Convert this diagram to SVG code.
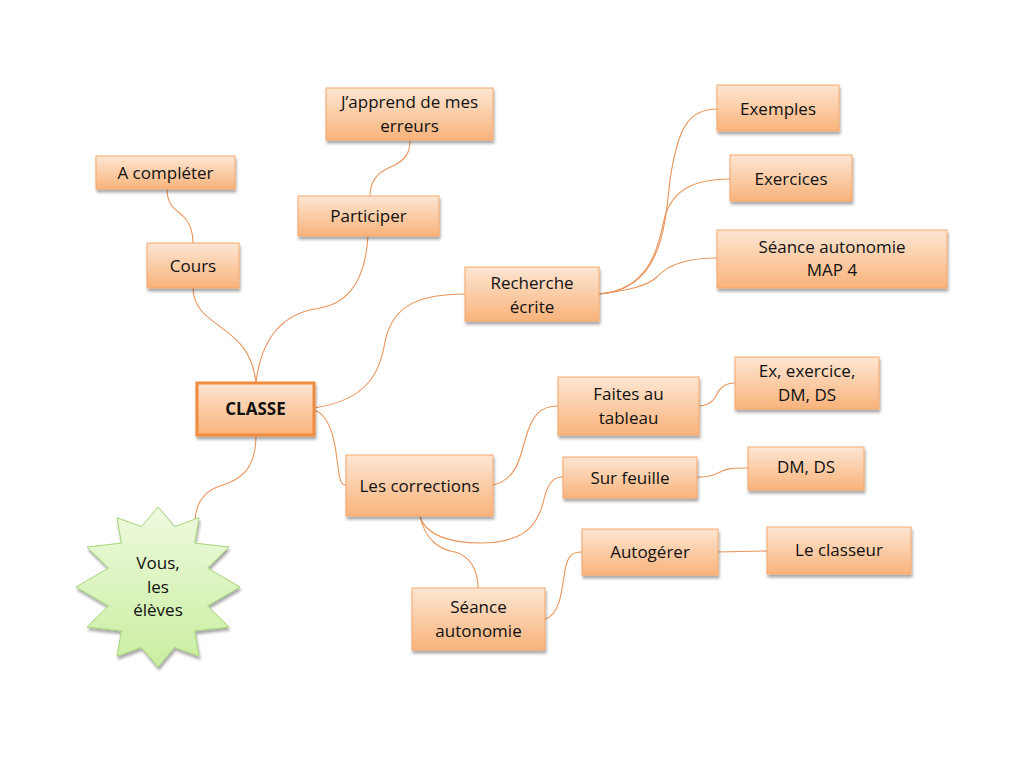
<svg xmlns="http://www.w3.org/2000/svg" width="1024" height="768" viewBox="0 0 1024 768">
<defs>
<linearGradient id="og" x1="0" y1="0" x2="0" y2="1">
<stop offset="0" stop-color="#fde6d3"/>
<stop offset="1" stop-color="#f9b37b"/>
</linearGradient>
<linearGradient id="gg" x1="0" y1="0" x2="0" y2="1">
<stop offset="0" stop-color="#eefadf"/>
<stop offset="1" stop-color="#c9ee9f"/>
</linearGradient>
<filter id="sh" x="-20%" y="-20%" width="140%" height="150%">
<feGaussianBlur in="SourceAlpha" stdDeviation="1.5"/>
<feOffset dx="1" dy="2.5" result="b"/>
<feComponentTransfer><feFuncA type="linear" slope="0.35"/></feComponentTransfer>
<feMerge><feMergeNode/><feMergeNode in="SourceGraphic"/></feMerge>
</filter>
</defs>
<style>
.box{fill:url(#og);stroke:#f5a86c;stroke-width:1;filter:url(#sh)}
.main{fill:url(#og);stroke:#f08a3c;stroke-width:3;filter:url(#sh)}
.star{fill:url(#gg);stroke:#a5d57a;stroke-width:1;filter:url(#sh)}
.t{font-family:"Open Sans","Liberation Sans",sans-serif;font-size:17px;fill:#111111;text-anchor:middle}
.b{font-weight:bold}
.c{fill:none;stroke:#e9955c;stroke-width:1.1}
</style>
<rect width="1024" height="768" fill="#ffffff"/>
<g id="connectors">
<path class="c" d="M193,288 C194,330 250,322 256,383"/>
<path class="c" d="M256,383 C262,330 290,312 320,308 C355,302 366,270 368,236"/>
<path class="c" d="M167,189 C167,208 178,210 185,218 C192,226 193,235 193,243"/>
<path class="c" d="M370,196 C370,176 383,170 395,165 C408,158 410,150 410,140"/>
<path class="c" d="M314,408 C368,400 380,372 385,342 C392,305 420,294 465,294"/>
<path class="c" d="M599,294 C660,290 665,230 670,180 C678,125 690,109 717,109"/>
<path class="c" d="M599,294 C648,290 658,250 664,220 C672,186 700,179 730,179"/>
<path class="c" d="M599,294 C630,290 648,286 658,276 C670,263 690,258 717,258"/>
<path class="c" d="M314,410 C330,415 335,440 337,460 C340,480 340,485 346,485"/>
<path class="c" d="M256,435 C256,470 240,480 220,486 C202,492 196,505 195,520"/>
<path class="c" d="M493,485 C515,480 520,460 525,440 C532,415 540,406 558,406"/>
<path class="c" d="M420,516 C425,535 450,543 480,543 C530,543 540,520 545,495 C550,480 555,477 563,477"/>
<path class="c" d="M420,516 C425,540 440,550 455,552 C470,556 478,570 478,588"/>
<path class="c" d="M545,619 C560,615 562,590 565,570 C568,555 572,552 582,552"/>
<path class="c" d="M699,406 C712,405 715,398 718,392 C722,385 728,383 735,383"/>
<path class="c" d="M697,477 C712,477 716,474 722,471 C728,468 735,468 748,468"/>
<path class="c" d="M718,552 L767,551"/>
</g>
<g id="n-completer"><rect class="box" x="96" y="156" width="139" height="33"/><text class="t" x="165.5" y="179">A compléter</text></g>
<g id="n-cours"><rect class="box" x="147" y="243" width="92" height="45"/><text class="t" x="193" y="272">Cours</text></g>
<g id="n-participer"><rect class="box" x="298" y="196" width="141" height="40"/><text class="t" x="368.5" y="222">Participer</text></g>
<g id="n-japprend"><rect class="box" x="326" y="88" width="167" height="52"/><text class="t" x="409.5" y="108">J’apprend de mes</text><text class="t" x="409.5" y="132">erreurs</text></g>
<g id="n-recherche"><rect class="box" x="465" y="267" width="134" height="54"/><text class="t" x="532" y="289">Recherche</text><text class="t" x="532" y="313">écrite</text></g>
<g id="n-exemples"><rect class="box" x="717" y="85" width="122" height="46"/><text class="t" x="778" y="115">Exemples</text></g>
<g id="n-exercices"><rect class="box" x="730" y="155" width="122" height="46"/><text class="t" x="791" y="185">Exercices</text></g>
<g id="n-map4"><rect class="box" x="717" y="230" width="230" height="58"/><text class="t" x="832" y="253">Séance autonomie</text><text class="t" x="832" y="276">MAP 4</text></g>
<g id="n-classe"><rect class="main" x="197" y="383" width="117" height="52"/><text class="t b" x="255.5" y="415">CLASSE</text></g>
<g id="n-corrections"><rect class="box" x="346" y="455" width="147" height="61"/><text class="t" x="419.5" y="492">Les corrections</text></g>
<g id="n-faites"><rect class="box" x="558" y="377" width="141" height="58"/><text class="t" x="628.5" y="400">Faites au</text><text class="t" x="628.5" y="424">tableau</text></g>
<g id="n-ex"><rect class="box" x="735" y="357" width="144" height="52"/><text class="t" x="807" y="377">Ex, exercice,</text><text class="t" x="807" y="401">DM, DS</text></g>
<g id="n-feuille"><rect class="box" x="563" y="457" width="134" height="41"/><text class="t" x="630" y="484">Sur feuille</text></g>
<g id="n-dmds"><rect class="box" x="748" y="447" width="116" height="43"/><text class="t" x="806" y="473">DM, DS</text></g>
<g id="n-autogerer"><rect class="box" x="582" y="529" width="136" height="46"/><text class="t" x="650" y="558">Autogérer</text></g>
<g id="n-classeur"><rect class="box" x="767" y="527" width="144" height="47"/><text class="t" x="839" y="556">Le classeur</text></g>
<g id="n-seance"><rect class="box" x="412" y="588" width="133" height="62"/><text class="t" x="478.5" y="613">Séance</text><text class="t" x="478.5" y="637">autonomie</text></g>
<g id="n-eleves">
<polygon class="star" points="158.0,507.0 174.6,526.6 199.0,517.7 194.6,543.1 229.0,547.0 207.5,568.1 240.0,587.0 207.5,605.9 229.0,627.0 194.6,630.9 199.0,656.3 174.6,647.4 158.0,667.0 141.4,647.4 117.0,656.3 121.4,630.9 87.0,627.0 108.5,605.9 76.0,587.0 108.5,568.1 87.0,547.0 121.4,543.1 117.0,517.7 141.4,526.6"/>
<text class="t" x="158" y="569">Vous,</text><text class="t" x="158" y="593">les</text><text class="t" x="158" y="616">élèves</text>
</g>
</svg>
